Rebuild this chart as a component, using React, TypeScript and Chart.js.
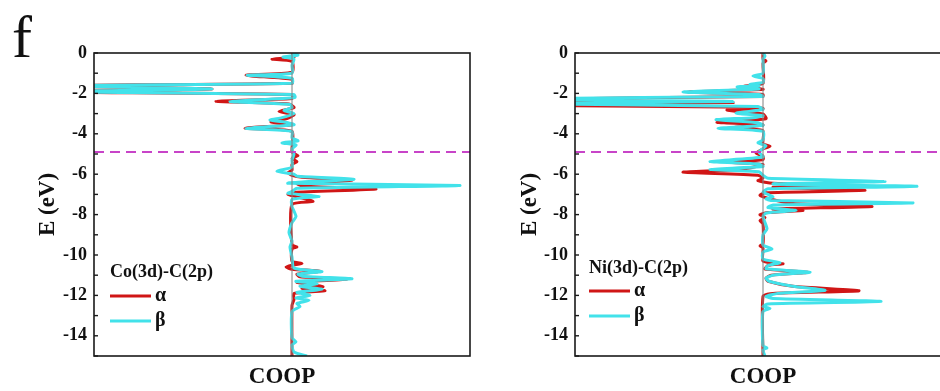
import React, { useEffect, useRef } from "react";
import { Chart, registerables } from "chart.js";

Chart.register(...registerables);

// ---------- data ----------
const energyLabels = [0, -2, -4, -6, -8, -10, -12, -14];
const energyMin = -15;
const energyMax = 0;
const fermiLevel = -4.9;

const coRange = [-1.98, 1.78];
const niRange = [-1.88, 1.88];

// [energy (eV), COOP]
const coAlpha: [number, number][] = [
  [0, 0], [-0.2, 0.02], [-0.3, -0.2], [-0.42, 0], [-0.95, 0], [-1.1, -0.46], [-1.3, 0], [-1.5, 0],
  [-1.62, -2.5], [-1.78, -0.8], [-1.92, -2.5], [-2.05, 0], [-2.25, 0], [-2.39, -0.76], [-2.52, -0.03],
  [-2.7, 0.02], [-2.9, -0.13], [-3.05, 0.02], [-3.25, -0.05], [-3.42, -0.21], [-3.55, 0], [-3.73, -0.47],
  [-3.88, 0], [-4.9, 0], [-5.08, 0.06], [-5.22, 0], [-5.38, 0.05], [-5.52, 0], [-5.8, 0], [-5.92, -0.04],
  [-6.05, 0], [-6.15, 0.1], [-6.3, 0.6], [-6.45, 0.05], [-6.58, 0.1], [-6.74, 0.84], [-6.9, 0.02],
  [-7.0, -0.04], [-7.12, 0.05], [-7.35, 0.21], [-7.5, 0], [-9.5, 0], [-9.6, 0.05], [-9.7, 0], [-10.3, 0],
  [-10.42, 0.1], [-10.5, 0], [-10.6, -0.06], [-10.7, 0], [-10.8, 0.28], [-10.95, 0.05], [-11.08, 0.08],
  [-11.2, 0.55], [-11.35, 0.05], [-11.57, 0.31], [-11.66, 0.1], [-11.77, 0.33], [-11.9, 0.02],
  [-12.2, 0.02], [-12.5, 0], [-15, 0],
];

const coBeta: [number, number][] = [
  [0, 0], [-0.1, 0.06], [-0.2, -0.09], [-0.3, 0.02], [-0.6, 0], [-1.0, 0], [-1.1, -0.45], [-1.25, 0],
  [-1.5, 0], [-1.62, -2.5], [-1.78, -0.8], [-1.92, -2.5], [-2.05, 0.02], [-2.2, 0.03], [-2.4, -0.62],
  [-2.55, -0.02], [-2.7, 0], [-2.85, -0.08], [-3.0, 0.02], [-3.2, -0.1], [-3.32, -0.22], [-3.45, -0.04],
  [-3.55, 0.02], [-3.73, -0.46], [-3.88, 0], [-4.2, 0], [-4.35, 0.06], [-4.45, -0.1], [-4.55, 0.04],
  [-4.75, 0], [-5.0, 0.02], [-5.3, 0], [-5.65, 0], [-5.86, -0.15], [-6.0, 0.02], [-6.1, 0.05],
  [-6.25, 0.62], [-6.38, 0.1], [-6.45, -0.04], [-6.56, 1.68], [-6.7, 0.05], [-6.85, 0], [-6.95, -0.04],
  [-7.1, 0.27], [-7.25, 0], [-7.6, 0], [-8.1, 0.04], [-8.4, 0], [-8.9, -0.03], [-9.3, 0], [-9.6, -0.02],
  [-10.1, 0], [-10.65, 0.02], [-10.82, 0.3], [-10.95, 0.06], [-11.05, 0.1], [-11.18, 0.6], [-11.3, 0.04],
  [-11.42, 0.25], [-11.55, 0.08], [-11.7, 0.3], [-11.85, 0.05], [-12.0, 0.18], [-12.12, 0.04],
  [-12.25, 0.17], [-12.4, 0.05], [-12.55, 0.08], [-12.8, 0], [-14.1, 0], [-14.3, 0.04], [-14.45, 0],
  [-14.8, 0.02], [-15, 0.15],
];

const niAlpha: [number, number][] = [
  [0, 0], [-0.3, 0], [-0.4, 0.03], [-0.5, 0], [-1.5, 0], [-1.65, -0.2], [-1.8, 0], [-1.93, -0.75],
  [-2.05, 0], [-2.15, 0], [-2.3, -2.5], [-2.45, -0.3], [-2.58, -2.5], [-2.68, -0.1], [-2.75, 0],
  [-2.82, -0.36], [-2.92, -0.2], [-3.02, 0], [-3.25, 0.03], [-3.43, -0.46], [-3.56, 0], [-3.7, -0.3],
  [-3.85, 0], [-4.5, 0], [-4.62, 0.07], [-4.75, 0], [-4.95, -0.07], [-5.1, 0], [-5.28, 0], [-5.4, -0.35],
  [-5.52, 0], [-5.75, -0.2], [-5.9, -0.8], [-6.05, -0.05], [-6.2, 0], [-6.32, -0.05], [-6.45, 0.1],
  [-6.55, 0.77], [-6.65, 0.1], [-6.8, 1.02], [-6.92, 0.02], [-7.05, -0.03], [-7.2, 0.05], [-7.45, 0.3],
  [-7.6, 1.09], [-7.72, 0.1], [-7.8, 0.4], [-7.9, 0.05], [-8.0, -0.03], [-8.15, 0.02], [-8.3, -0.03],
  [-8.45, 0], [-9.45, 0], [-9.55, -0.03], [-9.65, 0], [-10.3, 0], [-10.43, 0.2], [-10.52, 0.05],
  [-10.7, 0.02], [-10.85, 0.45], [-11.0, 0.08], [-11.15, 0.03], [-11.3, 0.05], [-11.55, 0.3],
  [-11.77, 0.96], [-11.9, 0.1], [-12.05, 0], [-15, 0],
];

const niBeta: [number, number][] = [
  [0, 0], [-0.15, 0.02], [-0.3, 0], [-1.0, 0], [-1.14, -0.1], [-1.26, 0], [-1.45, 0], [-1.55, -0.13],
  [-1.61, -0.04], [-1.68, -0.26], [-1.78, -0.04], [-1.93, -0.8], [-2.05, -0.04], [-2.15, 0],
  [-2.27, -2.5], [-2.4, -0.3], [-2.5, -2.5], [-2.65, -0.05], [-2.8, 0], [-2.98, -0.27], [-3.1, 0],
  [-3.2, -0.1], [-3.3, -0.47], [-3.45, -0.05], [-3.58, 0], [-3.73, -0.45], [-3.88, 0], [-4.3, 0],
  [-4.45, -0.05], [-4.6, 0.03], [-4.9, -0.04], [-5.15, 0], [-5.37, -0.53], [-5.5, -0.04], [-5.62, 0],
  [-5.76, -0.53], [-5.88, -0.04], [-6.05, 0], [-6.2, 0.05], [-6.36, 1.22], [-6.48, 0.1], [-6.6, 1.54],
  [-6.72, 0.05], [-6.88, 0], [-7.0, 0.05], [-7.12, 0.1], [-7.22, 0.03], [-7.3, 0.08], [-7.42, 1.5],
  [-7.52, 0.1], [-7.65, 0.05], [-7.8, 0.33], [-7.92, 0.03], [-8.1, 0], [-8.7, 0.04], [-9.0, 0],
  [-9.5, 0], [-9.7, 0.09], [-9.85, 0], [-10.2, 0], [-10.38, 0.17], [-10.52, 0.05], [-10.68, 0.03],
  [-10.85, 0.47], [-11.0, 0.1], [-11.15, 0.03], [-11.3, 0.06], [-11.55, 0.3], [-11.75, 0.62],
  [-11.9, 0.15], [-12.05, 0.03], [-12.15, 0.1], [-12.3, 1.18], [-12.42, 0.05], [-12.55, 0],
  [-12.65, 0.07], [-12.8, 0], [-14.5, 0], [-14.6, 0.04], [-14.7, 0], [-15, 0.02],
];

const coLegendTitle = "Co(3d)-C(2p)";
const niLegendTitle = "Ni(3d)-C(2p)";
const seriesNames = ["α", "β"];

// ---------- styles ----------
const SERIF = "'Liberation Serif', 'Times New Roman', serif";
const RED = "#d01616";
const CYAN = "#42e2ea";
const MAGENTA = "#c844c8";
const INK = "#111111";

const decorPlugin = {
  id: "decor",
  afterDatasetsDraw(chart: any, _args: any, opts: any) {
    const { ctx, chartArea: a, scales } = chart;
    const x0 = scales.x.getPixelForValue(0);
    ctx.save();
    // zero line
    ctx.strokeStyle = "#808080";
    ctx.lineWidth = 1;
    ctx.beginPath();
    ctx.moveTo(x0, a.top);
    ctx.lineTo(x0, a.bottom);
    ctx.stroke();
    // frame
    ctx.strokeStyle = "#1a1a1a";
    ctx.lineWidth = 1.6;
    ctx.strokeRect(a.left, a.top, a.right - a.left, a.bottom - a.top);
    // inward ticks
    ctx.lineWidth = 1.4;
    scales.y.ticks.forEach((t: any) => {
      const y = scales.y.getPixelForValue(t.value);
      ctx.beginPath();
      ctx.moveTo(a.left, y);
      ctx.lineTo(a.left + 4, y);
      ctx.stroke();
    });
    // legend
    const lx = a.left + opts.dx;
    const ly = a.top + opts.dy;
    ctx.fillStyle = INK;
    ctx.textBaseline = "middle";
    ctx.textAlign = "left";
    ctx.font = `bold 18px ${SERIF}`;
    ctx.fillText(opts.title, lx, ly);
    const rows = [
      { c: RED, t: seriesNames[0], y: ly + opts.row1 },
      { c: CYAN, t: seriesNames[1], y: ly + opts.row2 },
    ];
    rows.forEach((r) => {
      ctx.strokeStyle = r.c;
      ctx.lineWidth = 3;
      ctx.beginPath();
      ctx.moveTo(lx, r.y);
      ctx.lineTo(lx + 41, r.y);
      ctx.stroke();
      ctx.fillStyle = INK;
      ctx.font = `bold 20px ${SERIF}`;
      ctx.fillText(r.t, lx + 45, r.y);
    });
    // panel letter
    if (opts.letter) {
      ctx.font = `60px ${SERIF}`;
      ctx.textBaseline = "alphabetic";
      ctx.fillStyle = INK;
      ctx.fillText(opts.letter, 12, 57);
    }
    ctx.restore();
  },
};

function toPoints(series: [number, number][]) {
  return series.map(([e, v]) => ({ x: v, y: e }));
}

function buildChart(
  canvas: HTMLCanvasElement,
  alpha: [number, number][],
  beta: [number, number][],
  range: number[],
  cfg: { padLeft: number; padRight: number; yWidth: number; titlePad: number; legend: any }
) {
  return new Chart(canvas, {
    type: "scatter",
    data: {
      datasets: [
        {
          label: "fermi",
          data: [
            { x: range[0], y: fermiLevel },
            { x: range[1], y: fermiLevel },
          ],
          showLine: true,
          borderColor: MAGENTA,
          borderWidth: 2,
          borderDash: [10, 6],
          pointRadius: 0,
          order: 0,
        },
        {
          label: seriesNames[1],
          data: toPoints(beta),
          showLine: true,
          borderColor: CYAN,
          borderWidth: 3,
          pointRadius: 0,
          tension: 0.2,
          order: 1,
        },
        {
          label: seriesNames[0],
          data: toPoints(alpha),
          showLine: true,
          borderColor: RED,
          borderWidth: 3,
          pointRadius: 0,
          tension: 0.2,
          order: 2,
        },
      ],
    },
    options: {
      animation: false,
      responsive: false,
      maintainAspectRatio: false,
      devicePixelRatio: 1,
      events: [],
      layout: { padding: { left: cfg.padLeft, right: cfg.padRight, top: 53, bottom: 0 } },
      plugins: {
        legend: { display: false },
        tooltip: { enabled: false },
        decor: cfg.legend,
      } as any,
      scales: {
        x: {
          type: "linear",
          min: range[0],
          max: range[1],
          afterFit: (s: any) => {
            s.height = 35;
          },
          ticks: { display: false },
          grid: { display: false, drawTicks: false },
          border: { display: false },
          title: {
            display: true,
            text: "COOP",
            color: INK,
            font: { family: SERIF, size: 23, weight: "bold" },
            padding: { top: 0, bottom: 0 },
          },
        },
        y: {
          type: "linear",
          min: energyMin,
          max: energyMax,
          afterFit: (s: any) => {
            s.width = cfg.yWidth;
          },
          ticks: {
            stepSize: 1,
            autoSkip: false,
            padding: 7,
            color: INK,
            font: { family: SERIF, size: 18, weight: "bold" },
            callback: (v: any) => (energyLabels.includes(Number(v)) ? String(v) : ""),
          },
          grid: { display: false, drawTicks: false },
          border: { display: false },
          title: {
            display: true,
            text: "E (eV)",
            color: INK,
            font: { family: SERIF, size: 23, weight: "bold" },
            padding: { top: cfg.titlePad, bottom: 0 },
          },
        },
      },
    } as any,
    plugins: [decorPlugin],
  });
}

export default function App() {
  const leftRef = useRef<HTMLCanvasElement>(null);
  const rightRef = useRef<HTMLCanvasElement>(null);

  useEffect(() => {
    document.body.style.margin = "0";
    const c1 = buildChart(leftRef.current!, coAlpha, coBeta, coRange, {
      padLeft: 0,
      padRight: 5,
      yWidth: 94,
      titlePad: 34,
      legend: { title: coLegendTitle, dx: 16, dy: 219, row1: 24, row2: 49, letter: "f" },
    });
    const c2 = buildChart(rightRef.current!, niAlpha, niBeta, niRange, {
      padLeft: 0,
      padRight: 9,
      yWidth: 105,
      titlePad: 46,
      legend: { title: niLegendTitle, dx: 14, dy: 215, row1: 23, row2: 48, letter: "" },
    });
    return () => {
      c1.destroy();
      c2.destroy();
    };
  }, []);

  return (
    <div
      style={{
        position: "fixed",
        left: 0,
        top: 0,
        width: 940,
        height: 391,
        overflow: "hidden",
        background: "#ffffff",
      }}
    >
      <canvas
        ref={leftRef}
        width={475}
        height={391}
        style={{ position: "absolute", left: 0, top: 0, width: 475, height: 391 }}
      />
      <canvas
        ref={rightRef}
        width={490}
        height={391}
        style={{ position: "absolute", left: 470, top: 0, width: 490, height: 391 }}
      />
    </div>
  );
}
